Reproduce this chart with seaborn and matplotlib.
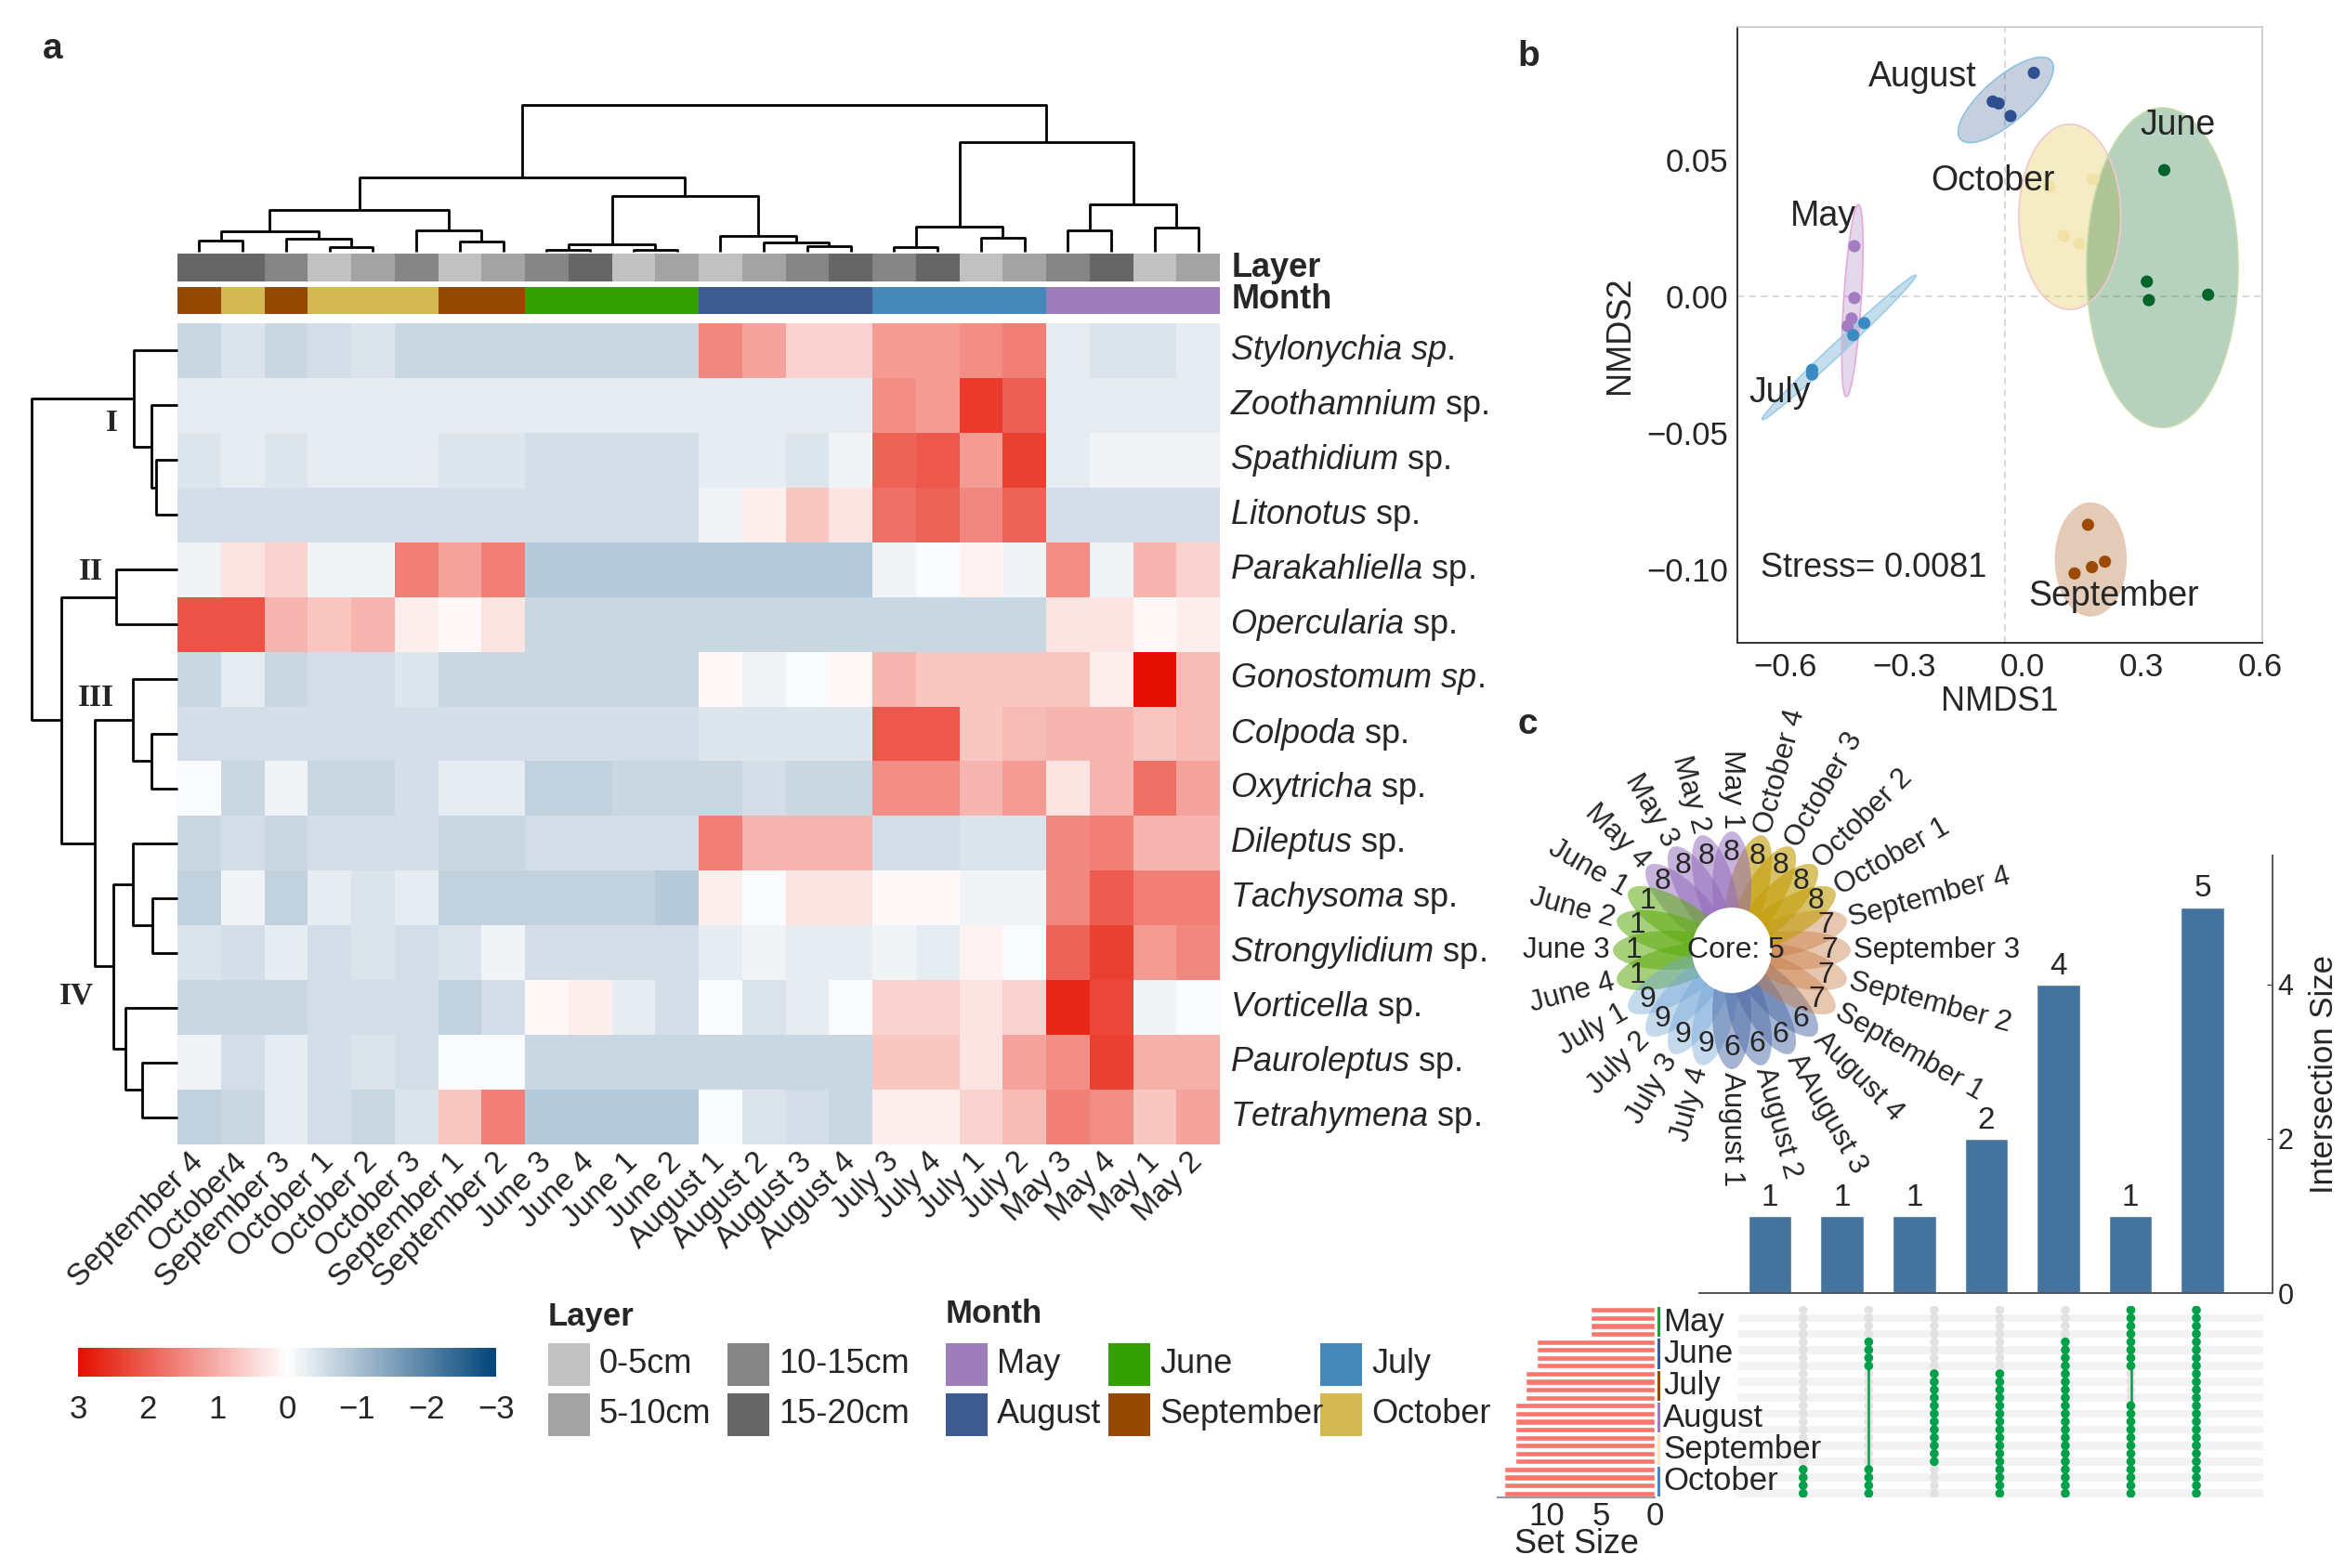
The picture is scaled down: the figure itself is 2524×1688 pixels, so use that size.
import re

import numpy as np
import pandas as pd
import matplotlib
matplotlib.use("Agg")
import matplotlib.pyplot as plt
import seaborn as sns
from matplotlib.colors import LinearSegmentedColormap, ListedColormap
from matplotlib.patches import Ellipse, Rectangle

# --- output size (pixels) ---
W, H = 2524, 1688
DPI = 100

# ---------------- panel a: heatmap ----------------
samples = ["September 4", "October4", "September 3", "October 1", "October 2", "October 3",
           "September 1", "September 2", "June 3", "June 4", "June 1", "June 2",
           "August 1", "August 2", "August 3", "August 4", "July 3", "July 4", "July 1", "July 2",
           "May 3", "May 4", "May 1", "May 2"]

species = ["Stylonychia sp.", "Zoothamnium sp.", "Spathidium sp.", "Litonotus sp.",
           "Parakahliella sp.", "Opercularia sp.", "Gonostomum sp.", "Colpoda sp.",
           "Oxytricha sp.", "Dileptus sp.", "Tachysoma sp.", "Strongylidium sp.",
           "Vorticella sp.", "Pauroleptus sp.", "Tetrahymena sp."]
species_all_italic = [True, False, False, False, False, False, True, False,
                      False, False, False, False, False, False, False]

z_stylonychia = [-0.65, -0.44, -0.65, -0.52, -0.44, -0.65, -0.65, -0.65, -0.65, -0.65, -0.65, -0.65,
                 1.5, 1.16, 0.55, 0.55, 1.25, 1.25, 1.42, 1.6, -0.3, -0.44, -0.44, -0.3]
z_zoothamnium = [-0.3] * 16 + [1.42, 1.25, 2.48, 2.0] + [-0.3] * 4
z_spathidium = [-0.4, -0.3, -0.4, -0.3, -0.3, -0.3, -0.4, -0.4, -0.52, -0.52, -0.52, -0.52,
                -0.3, -0.3, -0.4, -0.18, 1.95, 2.1, 1.25, 2.4, -0.3, -0.18, -0.18, -0.18]
z_litonotus = [-0.52] * 12 + [-0.18, 0.21, 0.72, 0.33, 1.8, 1.95, 1.5, 1.95] + [-0.52] * 4
z_parakahliella = [-0.18, 0.33, 0.55, -0.18, -0.18, 1.6, 1.16, 1.6] + [-0.85] * 8 + \
                  [-0.18, -0.06, 0.15, -0.18, 1.42, -0.18, 0.93, 0.55]
z_opercularia = [2.15, 2.15, 0.93, 0.72, 0.93, 0.21, 0.08, 0.33] + [-0.65] * 12 + [0.33, 0.33, 0.08, 0.21]
z_gonostomum = [-0.65, -0.3, -0.65, -0.52, -0.52, -0.4] + [-0.65] * 6 + \
               [0.08, -0.18, -0.06, 0.08, 0.93, 0.72, 0.72, 0.72, 0.72, 0.21, 3.0, 0.85]
z_colpoda = [-0.52] * 12 + [-0.4] * 4 + [2.1, 2.1, 0.72, 0.85, 0.93, 0.93, 0.72, 0.85]
z_oxytricha = [-0.06, -0.65, -0.18, -0.65, -0.65, -0.52, -0.3, -0.3, -0.75, -0.75, -0.65, -0.65,
               -0.65, -0.52, -0.65, -0.65, 1.42, 1.42, 0.93, 1.25, 0.33, 0.93, 1.8, 1.16]
z_dileptus = [-0.65, -0.52, -0.65, -0.52, -0.52, -0.52, -0.65, -0.65, -0.52, -0.52, -0.52, -0.52,
              1.6, 0.93, 0.93, 0.93, -0.52, -0.52, -0.44, -0.44, 1.5, 1.6, 0.93, 0.93]
z_tachysoma = [-0.75, -0.18, -0.75, -0.3, -0.44, -0.3, -0.75, -0.75, -0.75, -0.75, -0.75, -0.85,
               0.21, -0.06, 0.33, 0.33, 0.08, 0.08, -0.18, -0.18, 1.5, 2.05, 1.6, 1.6]
z_strongylidium = [-0.44, -0.52, -0.3, -0.52, -0.44, -0.52, -0.44, -0.18, -0.52, -0.52, -0.52, -0.52,
                   -0.3, -0.18, -0.3, -0.3, -0.18, -0.3, 0.15, -0.06, 1.95, 2.4, 1.25, 1.5]
z_vorticella = [-0.65, -0.65, -0.65, -0.52, -0.52, -0.52, -0.75, -0.52, 0.08, 0.21, -0.3, -0.52,
                -0.06, -0.44, -0.3, -0.06, 0.55, 0.55, 0.33, 0.55, 2.7, 2.3, -0.18, -0.06]
z_pauroleptus = [-0.18, -0.52, -0.3, -0.52, -0.44, -0.52, -0.06, -0.06] + [-0.65] * 8 + \
                [0.72, 0.72, 0.33, 1.16, 1.42, 2.4, 1.0, 1.0]
z_tetrahymena = [-0.75, -0.65, -0.3, -0.52, -0.65, -0.44, 0.72, 1.6, -0.85, -0.85, -0.85, -0.85,
                 -0.06, -0.44, -0.52, -0.65, 0.21, 0.21, 0.55, 0.85, 1.6, 1.42, 0.72, 1.16]
zscores = [z_stylonychia, z_zoothamnium, z_spathidium, z_litonotus, z_parakahliella,
           z_opercularia, z_gonostomum, z_colpoda, z_oxytricha, z_dileptus, z_tachysoma,
           z_strongylidium, z_vorticella, z_pauroleptus, z_tetrahymena]

layer_names = ["0-5cm", "5-10cm", "10-15cm", "15-20cm"]
layer_colors = ["#C1C1C1", "#A3A3A3", "#858585", "#666666"]
month_names = ["May", "June", "July", "August", "September", "October"]
month_colors = ["#9E7DBB", "#34A000", "#4489BA", "#3D5B8E", "#944800", "#D4B851"]

# dendrograms: (left node, right node, height); leaves are 0..n-1 in display order
col_merges = [(3, 4, 15), (2, 24, 42), (0, 1, 35), (26, 25, 65), (6, 7, 33), (5, 28, 68),
              (27, 29, 133), (8, 9, 5), (10, 11, 7), (31, 32, 25), (14, 15, 17), (13, 34, 30),
              (12, 35, 50), (33, 36, 177), (30, 37, 238), (16, 17, 15), (18, 19, 46),
              (39, 40, 80), (20, 21, 68), (22, 23, 76), (42, 43, 152), (41, 44, 350),
              (38, 45, 470)]
row_merges = [(2, 3, 70), (1, 15, 83), (0, 16, 140), (4, 5, 197), (7, 8, 83), (6, 19, 143),
              (10, 11, 80), (9, 21, 143), (13, 14, 113), (12, 23, 167), (22, 24, 208),
              (20, 25, 267), (18, 26, 375), (17, 27, 471)]
cluster_names = ["I", "II", "III", "IV"]

cb_ticks = [3, 2, 1, 0, -1, -2, -3]

# ---------------- panel b: NMDS ----------------
nmds_month = ["August"] * 4 + ["June"] * 4 + ["October"] * 4 + ["May"] * 4 + ["July"] * 4 + ["September"] * 4
nmds_x = [0.028, -0.076, -0.061, -0.031, 0.358, 0.314, 0.319, 0.469, 0.178, 0.067, 0.104, 0.143,
          -0.426, -0.426, -0.433, -0.443, -0.401, -0.429, -0.533, -0.533, 0.165, 0.131, 0.175, 0.208]
nmds_y = [0.0817, 0.0712, 0.0705, 0.0659, 0.0461, 0.0053, -0.0015, 0.0005, 0.0428, 0.0400, 0.0220, 0.0193,
          0.0183, -0.0007, -0.0082, -0.0110, -0.0099, -0.0143, -0.0270, -0.0287,
          -0.0837, -0.1015, -0.0992, -0.0972]

# ellipses: centre and two conjugate semi-diameters (data units)
ell_month = ["August", "October", "June", "May", "July", "September"]
ell_cx = [-0.043, 0.119, 0.353, -0.431, -0.465, 0.172]
ell_cy = [0.0718, 0.0290, 0.0104, -0.0017, -0.0188, -0.0964]
ell_ux = [0.111, 0.0, 0.0, 0.0153, 0.194, 0.0]
ell_uy = [0.01483, 0.0339, 0.0585, 0.0351, 0.0264, 0.0206]
ell_vx = [0.0472, 0.129, 0.192, 0.0222, 0.0125, 0.089]
ell_vy = [-0.00494, 0.0, 0.0, 0.0, -0.00132, 0.0]

nmds_point_colors = {"May": "#A47CC2", "June": "#00642B", "July": "#3A8BC2",
                     "August": "#2F4F8F", "September": "#9C4A04", "October": "#F0E2A6"}
nmds_fill_colors = {"May": "#A47CC2", "June": "#2F7F45", "July": "#5AA2CF",
                    "August": "#3F6394", "September": "#B36A36", "October": "#E6CF6E"}
nmds_edge_colors = {"May": "#E8A8D8", "June": "#C8DCA8", "July": "#9CCBE8",
                    "August": "#8CC4E0", "September": "#E8C8B0", "October": "#F0C8D0"}
nmds_fill_alpha = {"May": 0.3, "June": 0.35, "July": 0.35, "August": 0.3, "September": 0.35, "October": 0.4}

group_label_x = [-0.253, 0.393, -0.075, -0.506, -0.614, 0.231]
group_label_y = [0.080, 0.0626, 0.0422, 0.0293, -0.0354, -0.110]
group_label_txt = ["August", "June", "October", "May", "July", "September"]
stress_text = "Stress= 0.0081"
vline_x = -0.045

# ---------------- panel c: flower + UpSet ----------------
petal_names = ["September 3", "September 4", "October 1", "October 2", "October 3", "October 4",
               "May 1", "May 2", "May 3", "May 4", "June 1", "June 2", "June 3", "June 4",
               "July 1", "July 2", "July 3", "July 4", "August 1", "August 2", "AAugust 3",
               "August 4", "September 1", "September 2"]
petal_unique = {"May": 8, "June": 1, "July": 9, "August": 6, "September": 7, "October": 8}
core_count = 5
petal_colors = {"May": "#9167BB", "June": "#5DAB10", "July": "#6EA2D4",
                "August": "#4D6BA7", "September": "#C57539", "October": "#C39E0C"}
petal_alpha = {"May": 0.5, "June": 0.55, "July": 0.4, "August": 0.5, "September": 0.4, "October": 0.62}

upset_months = ["May", "June", "July", "August", "September", "October"]
inter_sizes = [1, 1, 1, 2, 4, 1, 5]
inter_members = [["October"], ["June", "October"], ["July", "August", "September"],
                 ["July", "August", "September", "October"],
                 ["June", "July", "August", "September", "October"],
                 ["May", "June", "August", "September", "October"],
                 ["May", "June", "July", "August", "September", "October"]]
samples_per_month = 4
set_tick_colors = ["#1E9A3F", "#3D5B8E", "#944800", "#9E7DBB", "#F3E6BE", "#4489BA"]


def dendro_segments(merges, n_leaves):
    pos = [i + 0.5 for i in range(n_leaves)]
    hgt = [0.0] * n_leaves
    segs = []
    for a, b, h in merges:
        segs.append(([pos[a], pos[a], pos[b], pos[b]], [hgt[a], h, h, hgt[b]]))
        pos.append((pos[a] + pos[b]) / 2)
        hgt.append(h)
    return segs


def species_label(name, all_italic):
    genus, sp = name.split(" ")
    if all_italic:
        return r"$\mathit{" + genus + r"\ " + sp + "}$"
    return r"$\mathit{" + genus + "}$ " + sp


def minus(v):
    return str(v).replace("-", "\u2212")


sns.set_style("white")
plt.rcParams["font.family"] = ["Liberation Sans", "DejaVu Sans"]
plt.rcParams["font.size"] = 25
plt.rcParams["mathtext.fontset"] = "custom"
plt.rcParams["mathtext.rm"] = "Liberation Sans"
plt.rcParams["mathtext.it"] = "Liberation Sans:italic"
plt.rcParams["mathtext.bf"] = "Liberation Sans:bold"

fig = plt.figure(figsize=(W / DPI, H / DPI), dpi=DPI)


def add_ax(x0, y0, x1, y1, **kw):
    return fig.add_axes([x0 / W, 1 - y1 / H, (x1 - x0) / W, (y1 - y0) / H], **kw)


# overlay in pixel coordinates for legends and free text
ov = add_ax(0, 0, W, H)
ov.set_xlim(0, W)
ov.set_ylim(H, 0)
ov.set_axis_off()
ov.patch.set_alpha(0)

heat_cmap = LinearSegmentedColormap.from_list("rwb", ["#04467B", "#FFFFFF", "#E41100"])

# --- heatmap ---
ax_hm = add_ax(191, 348, 1313, 1232)
zdf = pd.DataFrame(zscores, index=species, columns=samples)
sns.heatmap(zdf, ax=ax_hm, cmap=heat_cmap, vmin=-3, vmax=3, cbar=False,
            xticklabels=True, yticklabels=True)
ax_hm.yaxis.tick_right()
ax_hm.set_yticklabels([species_label(s, it) for s, it in zip(species, species_all_italic)],
                      rotation=0, va="center", fontsize=26)
ax_hm.set_xticklabels(samples, rotation=45, ha="right", va="center",
                      rotation_mode="anchor", fontsize=24)
ax_hm.tick_params(axis="both", length=0)
ax_hm.tick_params(axis="x", pad=10)
ax_hm.tick_params(axis="y", pad=8)
ax_hm.set_xlabel("")
ax_hm.set_ylabel("")

# --- annotation bars ---
layer_idx = [int(s[-1]) - 1 for s in samples]
month_idx = [month_names.index(re.match(r"[A-Za-z]+", s).group()) for s in samples]
ax_layer = add_ax(191, 273, 1313, 303)
sns.heatmap(np.array([layer_idx]), ax=ax_layer, cmap=ListedColormap(layer_colors),
            vmin=-0.5, vmax=3.5, cbar=False, xticklabels=False, yticklabels=False)
ax_month = add_ax(191, 309, 1313, 338)
sns.heatmap(np.array([month_idx]), ax=ax_month, cmap=ListedColormap(month_colors),
            vmin=-0.5, vmax=5.5, cbar=False, xticklabels=False, yticklabels=False)
ov.text(1326, 288, "Layer", fontsize=26, fontweight="bold", va="center", ha="left")
ov.text(1326, 323, "Month", fontsize=26, fontweight="bold", va="center", ha="left")

# --- dendrograms ---
ax_cd = add_ax(191, 113, 1313, 271)
for xs, ys in dendro_segments(col_merges, len(samples)):
    ax_cd.plot(xs, ys, color="black", lw=2, clip_on=False, solid_capstyle="butt")
ax_cd.set_xlim(0, len(samples))
ax_cd.set_ylim(0, max(m[2] for m in col_merges))
ax_cd.set_axis_off()

ax_rd = add_ax(34, 348, 191, 1232)
for ys, xs in dendro_segments(row_merges, len(species)):
    ax_rd.plot(xs, ys, color="black", lw=2, clip_on=False, solid_capstyle="butt")
ax_rd.set_xlim(max(m[2] for m in row_merges), 0)
ax_rd.set_ylim(len(species), 0)
ax_rd.set_axis_off()

for name, (x, y) in zip(cluster_names, [(120, 455), (98, 615), (103, 752), (82, 1072)]):
    ov.text(x, y, name, fontsize=24, fontweight="bold", family=["Liberation Serif", "DejaVu Serif"],
            ha="center", va="center")

# --- colour key ---
ax_cb = add_ax(84, 1451, 534, 1482)
grad = np.linspace(cb_ticks[0], cb_ticks[-1], 300)[None, :]
ax_cb.imshow(grad, cmap=heat_cmap, vmin=-3, vmax=3, aspect="auto",
             extent=(cb_ticks[0], cb_ticks[-1], 0, 1))
ax_cb.set_xticks(cb_ticks)
ax_cb.set_xticklabels([minus(t) for t in cb_ticks], fontsize=25)
ax_cb.set_yticks([])
ax_cb.tick_params(axis="x", length=0, pad=14)
for sp in ax_cb.spines.values():
    sp.set_visible(False)

# --- layer / month legends ---
ov.text(590, 1418, "Layer", fontsize=25, fontweight="bold", ha="left", va="center")
ov.text(1018, 1414, "Month", fontsize=25, fontweight="bold", ha="left", va="center")
leg_rows = [1446, 1500]
for k, (lab, col) in enumerate(zip(layer_names, layer_colors)):
    x0 = [590, 783][k // 2]
    y0 = leg_rows[k % 2]
    ov.add_patch(Rectangle((x0, y0), 45, 46, facecolor=col, edgecolor="none"))
    ov.text(x0 + 55, y0 + 23, lab, fontsize=26, ha="left", va="center")
for k, (lab, col) in enumerate(zip(month_names, month_colors)):
    x0 = [1018, 1193, 1421][k % 3]
    y0 = leg_rows[k // 3]
    ov.add_patch(Rectangle((x0, y0), 45, 46, facecolor=col, edgecolor="none"))
    ov.text(x0 + 55, y0 + 23, lab, fontsize=26, ha="left", va="center")

# ---------------- panel b ----------------
ax_b = add_ax(1870, 29, 2435, 692)
tt = np.linspace(0, 2 * np.pi, 240)
for i, m in enumerate(ell_month):
    ex = ell_cx[i] + ell_ux[i] * np.cos(tt) + ell_vx[i] * np.sin(tt)
    ey = ell_cy[i] + ell_uy[i] * np.cos(tt) + ell_vy[i] * np.sin(tt)
    ax_b.fill(ex, ey, facecolor=nmds_fill_colors[m], alpha=nmds_fill_alpha[m], lw=0, zorder=1)
    ax_b.plot(ex, ey, color=nmds_edge_colors[m], lw=1.2, zorder=2)
nmds_df = pd.DataFrame({"NMDS1": nmds_x, "NMDS2": nmds_y, "Month": nmds_month})
sns.scatterplot(data=nmds_df, x="NMDS1", y="NMDS2", hue="Month", palette=nmds_point_colors,
                s=90, edgecolor="none", legend=False, ax=ax_b, zorder=3)
ax_b.axhline(0, color="#D5D5D5", ls=(0, (4, 3)), lw=1.3, zorder=0)
ax_b.axvline(vline_x, color="#D5D5D5", ls=(0, (4, 3)), lw=1.3, zorder=0)
for x, y, txt in zip(group_label_x, group_label_y, group_label_txt):
    ax_b.text(x, y, txt, fontsize=27, ha="center", va="center", zorder=4)
ax_b.text(-0.378, -0.0997, stress_text, fontsize=26, ha="center", va="center")
ax_b.set_xlim(-0.722, 0.606)
ax_b.set_ylim(-0.1269, 0.0985)
ax_b.set_xticks([-0.6, -0.3, 0.0, 0.3, 0.6])
ax_b.set_xticklabels([minus(f"{v:.1f}") for v in [-0.6, -0.3, 0.0, 0.3, 0.6]], fontsize=25)
ax_b.set_yticks([0.05, 0.0, -0.05, -0.10])
ax_b.set_yticklabels([minus(f"{v:.2f}") for v in [0.05, 0.0, -0.05, -0.10]], fontsize=25)
ax_b.tick_params(direction="out", length=5, width=1.2, pad=2)
ax_b.set_xlabel("NMDS1", fontsize=26, labelpad=2)
ax_b.set_ylabel("NMDS2", fontsize=26, labelpad=8)
for side in ["left", "bottom"]:
    ax_b.spines[side].set_color("#333333")
    ax_b.spines[side].set_linewidth(1.4)
for side in ["top", "right"]:
    ax_b.spines[side].set_color("#C8C8C8")
    ax_b.spines[side].set_linewidth(1.2)

# ---------------- panel c: UpSet bars ----------------
ax_bar = add_ax(1829, 921, 2446, 1392)
ax_bar.patch.set_alpha(0)
sns.barplot(x=[str(i) for i in range(len(inter_sizes))], y=inter_sizes, color="#44739D",
            saturation=1, width=0.6, ax=ax_bar)
for cont in ax_bar.containers:
    ax_bar.bar_label(cont, labels=[str(v) for v in inter_sizes], padding=3, fontsize=24)
ax_bar.set_xlim(-0.98, 6.97)
ax_bar.set_ylim(0, 5.67)
ax_bar.set_xticks([])
ax_bar.yaxis.tick_right()
ax_bar.yaxis.set_label_position("right")
ax_bar.set_yticks([0, 2, 4])
ax_bar.tick_params(axis="y", direction="in", length=4, labelsize=22, pad=4)
ax_bar.set_ylabel("Intersection Size", fontsize=25, labelpad=12)
ax_bar.set_xlabel("")
for side in ["left", "top"]:
    ax_bar.spines[side].set_visible(False)
for side in ["right", "bottom"]:
    ax_bar.spines[side].set_color("#555555")
    ax_bar.spines[side].set_linewidth(1.4)

# ---------------- panel c: UpSet matrix ----------------
row_month = [m for m in upset_months for _ in range(samples_per_month)]
n_rows = len(row_month)
ax_mat = add_ax(1871, 1406, 2436, 1612)
ax_mat.patch.set_alpha(0)
for r in range(1, n_rows, 2):
    ax_mat.axhspan(r - 0.5, r + 0.5, color="#F3F3F3", zorder=0, lw=0)
recs = []
for j, members in enumerate(inter_members):
    for r, m in enumerate(row_month):
        recs.append({"col": j, "row": r, "active": m in members})
mat_df = pd.DataFrame(recs)
sns.scatterplot(data=mat_df[~mat_df["active"]], x="col", y="row", color="#E2E2E2", s=48,
                edgecolor="none", ax=ax_mat, zorder=2, legend=False)
for j, members in enumerate(inter_members):
    act = mat_df[(mat_df["col"] == j) & mat_df["active"]]["row"]
    ax_mat.plot([j, j], [act.min(), act.max()], color="#00A04A", lw=1.8, zorder=3)
sns.scatterplot(data=mat_df[mat_df["active"]], x="col", y="row", color="#00A04A", s=48,
                edgecolor="none", ax=ax_mat, zorder=4, legend=False)
ax_mat.set_xlim(-0.99, 7.02)
ax_mat.set_ylim(n_rows - 0.5, -0.5)
ax_mat.set_axis_off()

# ---------------- panel c: set sizes ----------------
set_size = {m: sum(s for s, mem in zip(inter_sizes, inter_members) if m in mem) for m in upset_months}
ax_set = add_ax(1612, 1406, 1781, 1612)
ax_set.patch.set_alpha(0)
ax_set.barh(range(n_rows), [set_size[m] for m in row_month], height=0.72, color="#F8766D")
ax_set.set_xlim(14.6, 0)
ax_set.set_ylim(n_rows - 0.5, -0.5)
ax_set.set_yticks([])
ax_set.set_xticks([10, 5, 0])
ax_set.tick_params(axis="x", direction="out", length=3, labelsize=25, pad=0, color="#888888")
ax_set.set_xlabel("Set Size", fontsize=26, labelpad=-3)
for side in ["left", "top", "right"]:
    ax_set.spines[side].set_visible(False)
ax_set.spines["bottom"].set_color("#999999")
ax_set.spines["bottom"].set_linewidth(1.6)
for k, m in enumerate(upset_months):
    r0 = k * samples_per_month
    ax_set.add_patch(Rectangle((-0.25, r0 - 0.4), -0.3, samples_per_month - 0.2,
                               facecolor=set_tick_colors[k], edgecolor="none", clip_on=False))
    ax_set.text(-0.8, r0 + (samples_per_month - 1) / 2, m, fontsize=25, ha="left",
                va="center", clip_on=False)

# ---------------- panel c: flower ----------------
ax_fl = add_ax(1600, 760, 2130, 1290)
ax_fl.patch.set_alpha(0)
ax_fl.set_xlim(-264, 266)
ax_fl.set_ylim(-267, 263)
ax_fl.set_axis_off()
step = 360 / len(petal_names)
for i, name in enumerate(petal_names):
    m = re.match(r"[A-Za-z]+", name).group().replace("AAugust", "August")
    a = i * step
    ca, sa = np.cos(np.deg2rad(a)), np.sin(np.deg2rad(a))
    ax_fl.add_patch(Ellipse((68 * ca, 68 * sa), 120, 42, angle=a, facecolor=petal_colors[m],
                            alpha=petal_alpha[m], edgecolor="none", zorder=1))
    ax_fl.text(105 * ca, 105 * sa, str(petal_unique[m]), fontsize=23, ha="center",
               va="center", zorder=5)
    if a < 90 or a >= 270:
        rot, ha = (a if a < 90 else a - 360), "left"
    else:
        rot, ha = a - 180, "right"
    ax_fl.text(131 * ca, 131 * sa, name, fontsize=22.5, rotation=rot, ha=ha, va="center",
               rotation_mode="anchor", zorder=5)
ax_fl.add_patch(Ellipse((0, 0), 86, 92, facecolor="white", edgecolor="none", zorder=3))
ax_fl.text(4, 0, f"Core: {core_count}", fontsize=23, ha="center", va="center", zorder=6)

# --- panel letters ---
ov.text(57, 53, "a", fontsize=28, fontweight="bold", ha="center", va="center")
ov.text(1645, 61, "b", fontsize=28, fontweight="bold", ha="center", va="center")
ov.text(1644, 780, "c", fontsize=28, fontweight="bold", ha="center", va="center")

fig.savefig("out.png", dpi=DPI)
